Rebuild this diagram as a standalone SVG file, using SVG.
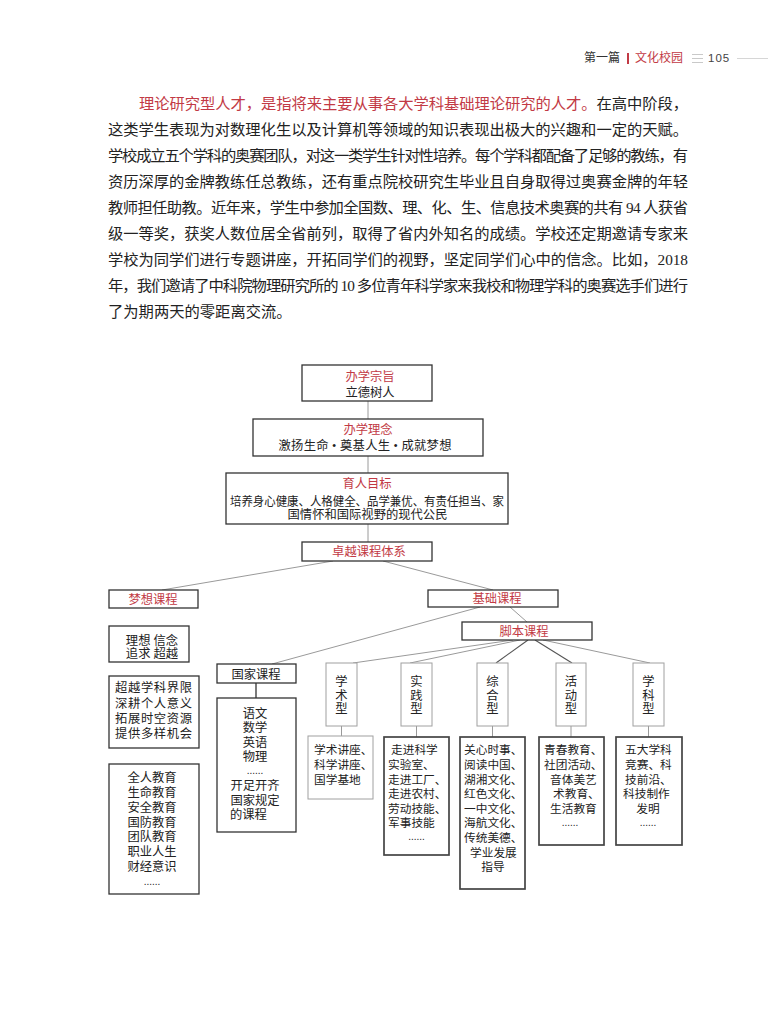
<svg xmlns="http://www.w3.org/2000/svg" width="768" height="1024" viewBox="0 0 768 1024">
<style>
.p{font-family:"Liberation Serif","Noto Sans CJK SC",serif;font-size:15.3px;fill:#222}
.t{font-family:"Liberation Serif","Noto Sans CJK SC",serif;font-size:12.3px;fill:#222}
.s{font-family:"Liberation Serif","Noto Sans CJK SC",serif;font-size:11.7px;fill:#222}
.hd{font-family:"Liberation Serif","Noto Sans CJK SC",serif;font-size:12px;fill:#333}
.red{fill:#c23a45}
.c{text-anchor:middle}
.bd{fill:#fff;stroke:#333;stroke-width:1.3}
.bk{fill:#fff;stroke:#444;stroke-width:1.7}
.bl{fill:#fff;stroke:#a0a0a0;stroke-width:1}
.ln{stroke:#9a9a9a;stroke-width:1;fill:none}
.ld{stroke:#555;stroke-width:1.1;fill:none}
.dot{font-family:"Liberation Sans",sans-serif;font-size:10px;fill:#222;text-anchor:middle}
</style>
<rect width="768" height="1024" fill="#fff"/>

<g id="header">
<text class="hd" x="584" y="62" textLength="36">第一篇</text>
<rect x="627" y="53" width="2" height="11" fill="#c23a45"/>
<text class="hd red" x="635" y="62" textLength="48">文化校园</text>
<g stroke="#bbb" stroke-width="0.8"><line x1="692" y1="54.5" x2="703" y2="54.5"/><line x1="692" y1="58.5" x2="703" y2="58.5"/><line x1="692" y1="62.5" x2="703" y2="62.5"/></g>
<text x="708" y="62" font-family="Liberation Sans, sans-serif" font-size="11.5" fill="#444" letter-spacing="1">105</text>
<line x1="737" y1="58.5" x2="768" y2="58.5" stroke="#ccc" stroke-width="0.8"/>
</g>

<g id="paragraph">
<text class="p" x="139" y="109" textLength="549" lengthAdjust="spacing"><tspan class="red">理论研究型人才，是指将来主要从事各大学科基础理论研究的人才。</tspan><tspan>在高中阶段，</tspan></text>
<text class="p" x="108" y="135" textLength="580" lengthAdjust="spacing">这类学生表现为对数理化生以及计算机等领域的知识表现出极大的兴趣和一定的天赋。</text>
<text class="p" x="108" y="161" textLength="580" lengthAdjust="spacing">学校成立五个学科的奥赛团队，对这一类学生针对性培养。每个学科都配备了足够的教练，有</text>
<text class="p" x="108" y="187" textLength="580" lengthAdjust="spacing">资历深厚的金牌教练任总教练，还有重点院校研究生毕业且自身取得过奥赛金牌的年轻</text>
<text class="p" x="108" y="213" textLength="580" lengthAdjust="spacing">教师担任助教。近年来，学生中参加全国数、理、化、生、信息技术奥赛的共有 94 人获省</text>
<text class="p" x="108" y="239" textLength="580" lengthAdjust="spacing">级一等奖，获奖人数位居全省前列，取得了省内外知名的成绩。学校还定期邀请专家来</text>
<text class="p" x="108" y="265" textLength="580" lengthAdjust="spacing">学校为同学们进行专题讲座，开拓同学们的视野，坚定同学们心中的信念。比如，2018</text>
<text class="p" x="108" y="291" textLength="580" lengthAdjust="spacing">年，我们邀请了中科院物理研究所的 10 多位青年科学家来我校和物理学科的奥赛选手们进行</text>
<text class="p" x="108" y="317">了为期两天的零距离交流。</text>
</g>

<g id="connectors">
<line class="ln" x1="368" y1="401" x2="368" y2="419"/>
<line class="ln" x1="368" y1="456" x2="368" y2="473"/>
<line class="ln" x1="368" y1="524" x2="368" y2="542"/>
<line class="ln" x1="333" y1="561" x2="162" y2="590"/>
<line class="ln" x1="383" y1="561" x2="493" y2="590"/>
<line class="ln" x1="480" y1="607" x2="272" y2="664"/>
<line class="ln" x1="510" y1="607" x2="527" y2="622"/>
<line class="ln" x1="513" y1="640" x2="353" y2="663"/>
<line class="ln" x1="520" y1="640" x2="410" y2="663"/>
<line class="ld" x1="528" y1="640" x2="496" y2="663"/>
<line class="ld" x1="535" y1="640" x2="572" y2="663"/>
<line class="ln" x1="543" y1="640" x2="650" y2="663"/>
<line x1="256" y1="683" x2="256" y2="698" stroke="#333" stroke-width="1.3"/>
<line class="ln" x1="341.5" y1="726" x2="341.5" y2="736"/>
<line class="ln" x1="416.5" y1="726" x2="416.5" y2="737"/>
<line class="ln" x1="492.5" y1="726" x2="492.5" y2="737"/>
<line class="ln" x1="571" y1="726" x2="571" y2="737"/>
<line class="ln" x1="648.5" y1="726" x2="648.5" y2="737"/>
</g>

<g id="n-zongzhi">
<rect class="bd" x="302" y="365" width="130" height="36"/>
<text class="t red c" x="370" y="381">办学宗旨</text>
<text class="t c" x="370" y="397">立德树人</text>
</g>
<g id="n-linian">
<rect class="bd" x="253" y="419" width="230" height="37"/>
<text class="t red c" x="368" y="434">办学理念</text>
<text class="t c" x="365" y="450" textLength="173">激扬生命 • 奠基人生 • 成就梦想</text>
</g>
<g id="n-mubiao">
<rect class="bd" x="226" y="473" width="282" height="51"/>
<text class="t red c" x="367" y="488">育人目标</text>
<text class="t" x="230" y="506" textLength="274" lengthAdjust="spacingAndGlyphs">培养身心健康、人格健全、品学兼优、有责任担当、家</text>
<text class="t c" x="367.5" y="519">国情怀和国际视野的现代公民</text>
</g>
<g id="n-zhuoyue">
<rect class="bd" x="302" y="542" width="130" height="19"/>
<text class="t red c" x="369" y="556">卓越课程体系</text>
</g>
<g id="n-mengxiang">
<rect class="bd" x="109" y="590" width="89" height="18"/>
<text class="t red c" x="153" y="603.5">梦想课程</text>
</g>
<g id="n-jichu">
<rect class="bd" x="428" y="590" width="130" height="17"/>
<text class="t red c" x="497" y="603">基础课程</text>
</g>
<g id="n-jiaoben">
<rect class="bd" x="462" y="622" width="130" height="18"/>
<text class="t red c" x="524" y="635.5">脚本课程</text>
</g>

<g id="n-lixiang">
<rect class="bd" x="109" y="626" width="80" height="36"/>
<text class="t c" x="152" y="644.5" font-size="12">理想 信念</text>
<text class="t c" x="152" y="658" font-size="12">追求 超越</text>
</g>
<g id="n-chaoyue">
<rect class="bd" x="109" y="676" width="90" height="72"/>
<text class="t" x="115" y="691.5" textLength="77">超越学科界限</text>
<text class="t" x="115" y="707.5" textLength="77">深耕个人意义</text>
<text class="t" x="115" y="723" textLength="77">拓展时空资源</text>
<text class="t" x="115" y="738" textLength="77">提供多样机会</text>
</g>
<g id="n-quanren">
<rect class="bd" x="109" y="764" width="90" height="130"/>
<text class="t c" x="152" y="781.5">全人教育</text>
<text class="t c" x="152" y="796.5">生命教育</text>
<text class="t c" x="152" y="811.5">安全教育</text>
<text class="t c" x="152" y="826.5">国防教育</text>
<text class="t c" x="152" y="841">团队教育</text>
<text class="t c" x="152" y="856">职业人生</text>
<text class="t c" x="152" y="871">财经意识</text>
<text class="dot" x="152" y="885">......</text>
</g>

<g id="n-guojia">
<rect class="bd" x="217" y="664" width="79" height="19"/>
<text class="t c" x="256" y="678.5">国家课程</text>
</g>
<g id="n-guojia-detail">
<rect class="bd" x="217" y="698" width="79" height="134"/>
<text class="t c" x="255" y="718">语文</text>
<text class="t c" x="255" y="732">数学</text>
<text class="t c" x="255" y="746.5">英语</text>
<text class="t c" x="255" y="761">物理</text>
<text class="dot" x="255" y="774">......</text>
<text class="t c" x="255" y="790">开足开齐</text>
<text class="t c" x="255" y="804.5">国家规定</text>
<text class="t" x="230" y="818.5">的课程</text>
</g>

<g id="n-xueshu">
<rect class="bl" x="326" y="663" width="31" height="63"/>
<text class="t c" x="341.5" y="686.4">学</text><text class="t c" x="341.5" y="699.7">术</text><text class="t c" x="341.5" y="713">型</text>
</g>
<g id="n-shijian">
<rect class="bl" x="401" y="663" width="31" height="63"/>
<text class="t c" x="416.5" y="686.4">实</text><text class="t c" x="416.5" y="699.7">践</text><text class="t c" x="416.5" y="713">型</text>
</g>
<g id="n-zonghe">
<rect class="bl" x="477" y="663" width="31" height="63"/>
<text class="t c" x="492.5" y="686.4">综</text><text class="t c" x="492.5" y="699.7">合</text><text class="t c" x="492.5" y="713">型</text>
</g>
<g id="n-huodong">
<rect class="bl" x="556" y="663" width="30" height="63"/>
<text class="t c" x="571" y="686.4">活</text><text class="t c" x="571" y="699.7">动</text><text class="t c" x="571" y="713">型</text>
</g>
<g id="n-xueke">
<rect class="bl" x="633" y="663" width="31" height="63"/>
<text class="t c" x="648.5" y="686.4">学</text><text class="t c" x="648.5" y="699.7">科</text><text class="t c" x="648.5" y="713">型</text>
</g>

<g id="n-xueshu-detail">
<rect class="bl" x="308" y="736" width="65" height="63"/>
<text class="s" x="314" y="754.4">学术讲座、</text>
<text class="s" x="314" y="769">科学讲座、</text>
<text class="s" x="314" y="783.6">国学基地</text>
</g>
<g id="n-shijian-detail">
<rect class="bk" x="384" y="737" width="65" height="118"/>
<text class="s" x="391" y="754.4">走进科学</text>
<text class="s" x="388" y="769">实验室、</text>
<text class="s" x="388" y="783.6">走进工厂、</text>
<text class="s" x="388" y="798.2">走进农村、</text>
<text class="s" x="388" y="812.8">劳动技能、</text>
<text class="s" x="388" y="827.4">军事技能</text>
<text class="dot" x="416.5" y="840">......</text>
</g>
<g id="n-zonghe-detail">
<rect class="bk" x="460" y="737" width="65" height="152"/>
<text class="s" x="464" y="754.4">关心时事、</text>
<text class="s" x="464" y="769">阅读中国、</text>
<text class="s" x="464" y="783.6">湖湘文化、</text>
<text class="s" x="464" y="798.2">红色文化、</text>
<text class="s" x="464" y="812.8">一中文化、</text>
<text class="s" x="464" y="827.4">海航文化、</text>
<text class="s" x="464" y="842">传统美德、</text>
<text class="s" x="470" y="856.6">学业发展</text>
<text class="s c" x="493" y="871.2">指导</text>
</g>
<g id="n-huodong-detail">
<rect class="bk" x="539" y="737" width="65" height="108"/>
<text class="s" x="544" y="754.4">青春教育、</text>
<text class="s" x="544" y="769">社团活动、</text>
<text class="s" x="550" y="783.6">音体美艺</text>
<text class="s" x="553" y="798.2">术教育、</text>
<text class="s" x="550" y="812.8">生活教育</text>
<text class="dot" x="570" y="826">......</text>
</g>
<g id="n-xueke-detail">
<rect class="bk" x="616" y="737" width="66" height="108"/>
<text class="s" x="625" y="754.4">五大学科</text>
<text class="s" x="625" y="769">竞赛、科</text>
<text class="s" x="625" y="783.6">技前沿、</text>
<text class="s" x="623" y="798.2">科技制作</text>
<text class="s c" x="648" y="812.8">发明</text>
<text class="dot" x="648" y="826">......</text>
</g>
</svg>
